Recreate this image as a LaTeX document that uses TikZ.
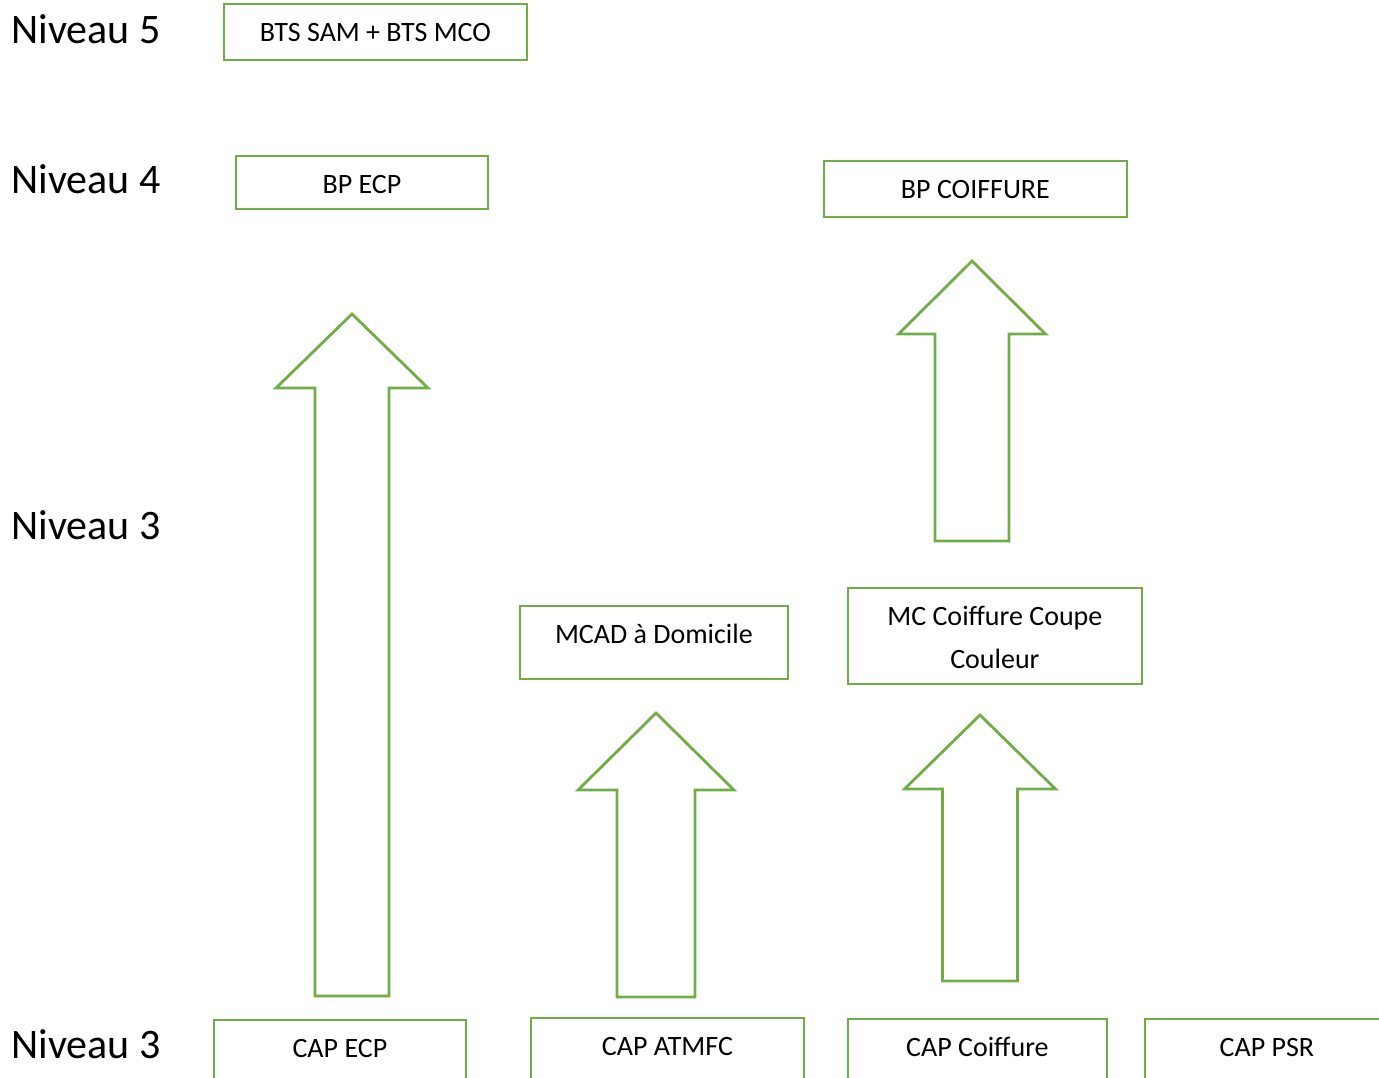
\documentclass[tikz,border=0pt]{standalone}
\usepackage{fontspec}
\setmainfont{Carlito}
\usetikzlibrary{positioning}
\definecolor{vert}{HTML}{70AD47}
% fleche pleine : x, pointe, base de la tete, bas, demi-tete, demi-tige
\newcommand{\fleche}[6]{%
  \draw[fleche] (#1,#2) -- (#1+#5,#3) -- (#1+#6,#3) -- (#1+#6,#4)
    -- (#1-#6,#4) -- (#1-#6,#3) -- (#1-#5,#3) -- cycle;}

\begin{document}
\begin{tikzpicture}[x=0.5pt,y=-0.5pt,
  boite/.style={draw=vert,line width=1.4pt,anchor=north west,inner sep=0pt},
  titre/.style={font=\fontsize{14}{17}\selectfont,anchor=base,inner sep=0pt},
  niveau/.style={font=\fontsize{21}{25}\selectfont,anchor=base west,inner sep=0pt},
  fleche/.style={draw=vert,line width=1.4pt,line join=miter}]
\useasboundingbox (0,0) rectangle (1379,1077);

\node[niveau] (n5) at (11,43) {Niveau 5};
\node[niveau] (n4) at (11,193) {Niveau 4};
\node[niveau] (n3) at (11,539) {Niveau 3};
\node[niveau] (n3b) at (11,1058) {Niveau 3};

% niveau 5 et 4
\node[boite,minimum width=151.5pt,minimum height=28pt] (bts) at (222.5,2.5) {};
\node[titre] (tbts) at ([yshift=-19.5pt]bts.north) {BTS SAM + BTS MCO};
\node[boite,minimum width=126pt,minimum height=26.5pt] (bpecp) at (234.5,154.5) {};
\node[titre] (tbpecp) at ([yshift=-19.5pt]bpecp.north) {BP ECP};
\node[boite,minimum width=151.5pt,minimum height=28pt] (bpcoif) at (822.5,159.5) {};
\node[titre] (tbpcoif) at ([yshift=-19.5pt]bpcoif.north) {BP COIFFURE};

% niveau 3
\node[boite,minimum width=134pt,minimum height=36.5pt] (mcad) at (518.5,604.5) {};
\node[titre] (tmcad) at ([yshift=-19.5pt]mcad.north) {MCAD à Domicile};
\node[boite,minimum width=147pt,minimum height=48pt] (mccc) at (846.5,586.5) {};
\node[titre] (tmccc) at ([yshift=-19.5pt]mccc.north) {MC Coiffure Coupe};
\node[titre] (tmccc2) at ([yshift=-41pt]mccc.north) {Couleur};

% CAP
\node[boite,minimum width=126pt,minimum height=40pt] (capecp) at (212.5,1018.5) {};
\node[titre] (tcapecp) at ([yshift=-19.5pt]capecp.north) {CAP ECP};
\node[boite,minimum width=136.5pt,minimum height=40pt] (capatmfc) at (529.5,1016.5) {};
\node[titre] (tcapatmfc) at ([yshift=-19.5pt]capatmfc.north) {CAP ATMFC};
\node[boite,minimum width=129.5pt,minimum height=40pt] (capcoif) at (846.5,1017.5) {};
\node[titre] (tcapcoif) at ([yshift=-19.5pt]capcoif.north) {CAP Coiffure};
\node[boite,minimum width=122pt,minimum height=40pt] (cappsr) at (1143.5,1017.5) {};
\node[titre] (tcappsr) at ([yshift=-19.5pt]cappsr.north) {CAP PSR};

\fleche{352}{314}{388}{996}{76}{37}
\fleche{656}{713}{790}{997}{78}{39}
\fleche{980}{715}{789}{981}{75.5}{37.5}
\fleche{972}{261}{334}{541}{73.5}{37}

\end{tikzpicture}
\end{document}
